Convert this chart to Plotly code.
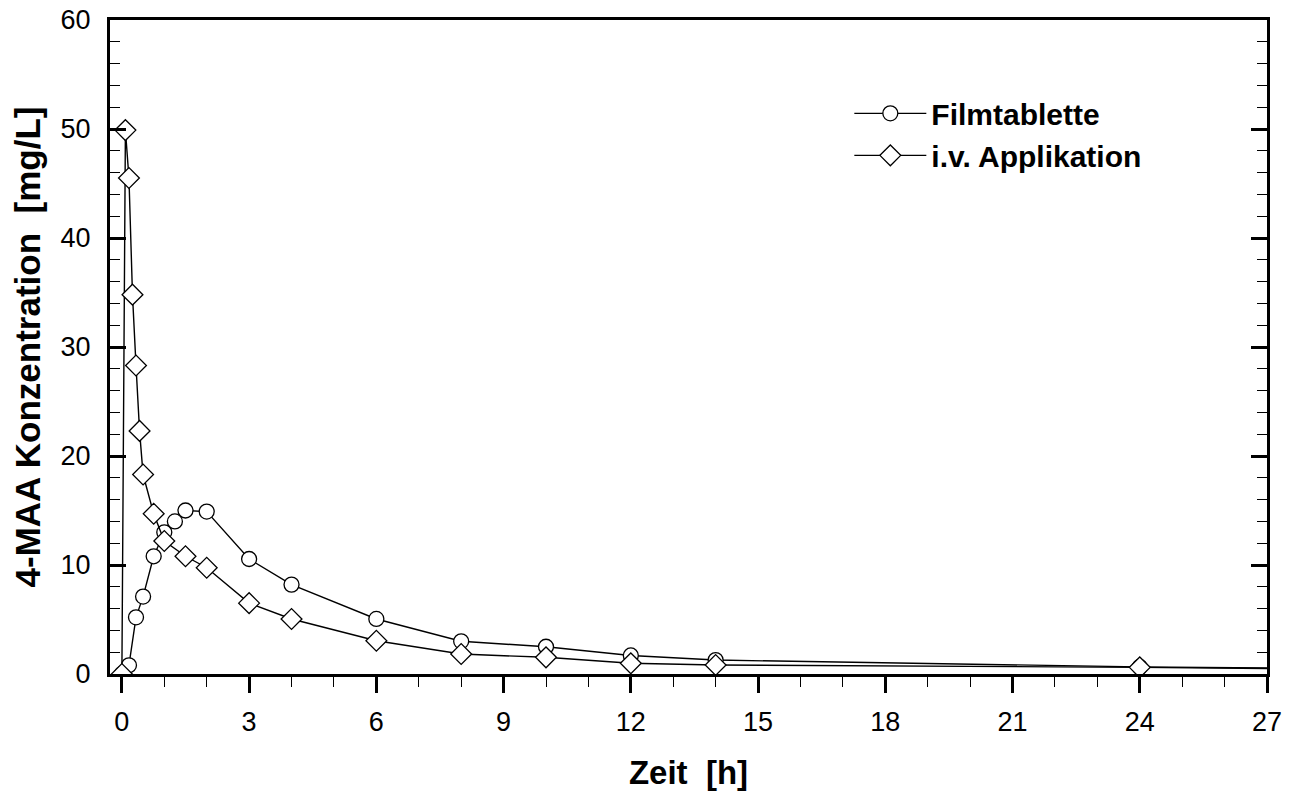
import plotly.graph_objects as go

# Filmtablette (oral film-coated tablet)
t_tab = [0, 0.167, 0.333, 0.5, 0.75, 1.0, 1.25, 1.5, 2, 3, 4, 6, 8, 10, 12, 14, 24, 36]
c_tab = [0, 0.8, 5.2, 7.1, 10.8, 13.0, 14.0, 15.0, 14.9, 10.55, 8.2, 5.05, 3.0, 2.5, 1.7, 1.28, 0.65, 0.25]

# i.v. Applikation
t_iv = [0, 0.083, 0.167, 0.25, 0.333, 0.417, 0.5, 0.75, 1.0, 1.5, 2, 3, 4, 6, 8, 10, 12, 14, 24, 36]
c_iv = [0, 49.9, 45.5, 34.8, 28.3, 22.3, 18.3, 14.7, 12.2, 10.8, 9.75, 6.5, 5.05, 3.05, 1.83, 1.53, 0.98, 0.83, 0.61, 0.2]

x_ticks = [0, 3, 6, 9, 12, 15, 18, 21, 24, 27]
y_ticks = [0, 10, 20, 30, 40, 50, 60]

FONT = "Liberation Sans, Arial, sans-serif"

fig = go.Figure()
fig.add_trace(go.Scatter(
    x=t_tab, y=c_tab, mode="lines+markers", name="Filmtablette",
    line=dict(color="black", width=1.4),
    marker=dict(symbol="circle", size=15, color="white", line=dict(color="black", width=1.3)),
))
fig.add_trace(go.Scatter(
    x=t_iv, y=c_iv, mode="lines+markers", name="i.v. Applikation",
    line=dict(color="black", width=1.4),
    marker=dict(symbol="diamond", size=16, color="white", line=dict(color="black", width=1.3)),
))

fig.update_layout(
    width=1284, height=788,
    margin=dict(l=102, r=25, t=12, b=122),
    plot_bgcolor="white", paper_bgcolor="white",
    font=dict(family=FONT, color="black", size=27),
    legend=dict(
        x=0.639, y=0.897, xanchor="left", yanchor="top",
        bgcolor="rgba(0,0,0,0)", borderwidth=0,
        font=dict(family=FONT, size=30, color="black", weight="bold"),
        itemwidth=72, tracegroupgap=0,
    ),
    showlegend=True,
)

fig.update_xaxes(
    range=[-0.28, 27], tickvals=x_ticks, ticktext=[str(v) for v in x_ticks],
    showgrid=False, zeroline=False, automargin=False,
    showline=True, linecolor="black", linewidth=3, mirror=True,
    ticks="outside", ticklen=16, tickwidth=3, tickcolor="black",
    minor=dict(dtick=1, tick0=0, ticks="outside", ticklen=10, tickwidth=1, tickcolor="black", showgrid=False),
    tickfont=dict(family=FONT, size=27, color="black"),
    ticklabelstandoff=6, ticklabeloverflow="allow",
    title=dict(text="Zeit  [h]", font=dict(family=FONT, size=33, color="black", weight="bold"), standoff=25),
)
fig.update_yaxes(
    range=[0, 60], tickvals=y_ticks, ticktext=[str(v) for v in y_ticks],
    showgrid=False, zeroline=False, automargin=False,
    showline=True, linecolor="black", linewidth=3, mirror="ticks",
    ticks="inside", ticklen=16, tickwidth=3, tickcolor="black",
    minor=dict(dtick=2, tick0=0, ticks="inside", ticklen=10, tickwidth=1, tickcolor="black", showgrid=False),
    tickfont=dict(family=FONT, size=27, color="black"),
    ticklabelstandoff=11, ticklabeloverflow="allow",
    title=dict(text="4-MAA Konzentration  [mg/L]", font=dict(family=FONT, size=35, color="black", weight="bold"), standoff=11),
)

fig.write_html("out.html")
